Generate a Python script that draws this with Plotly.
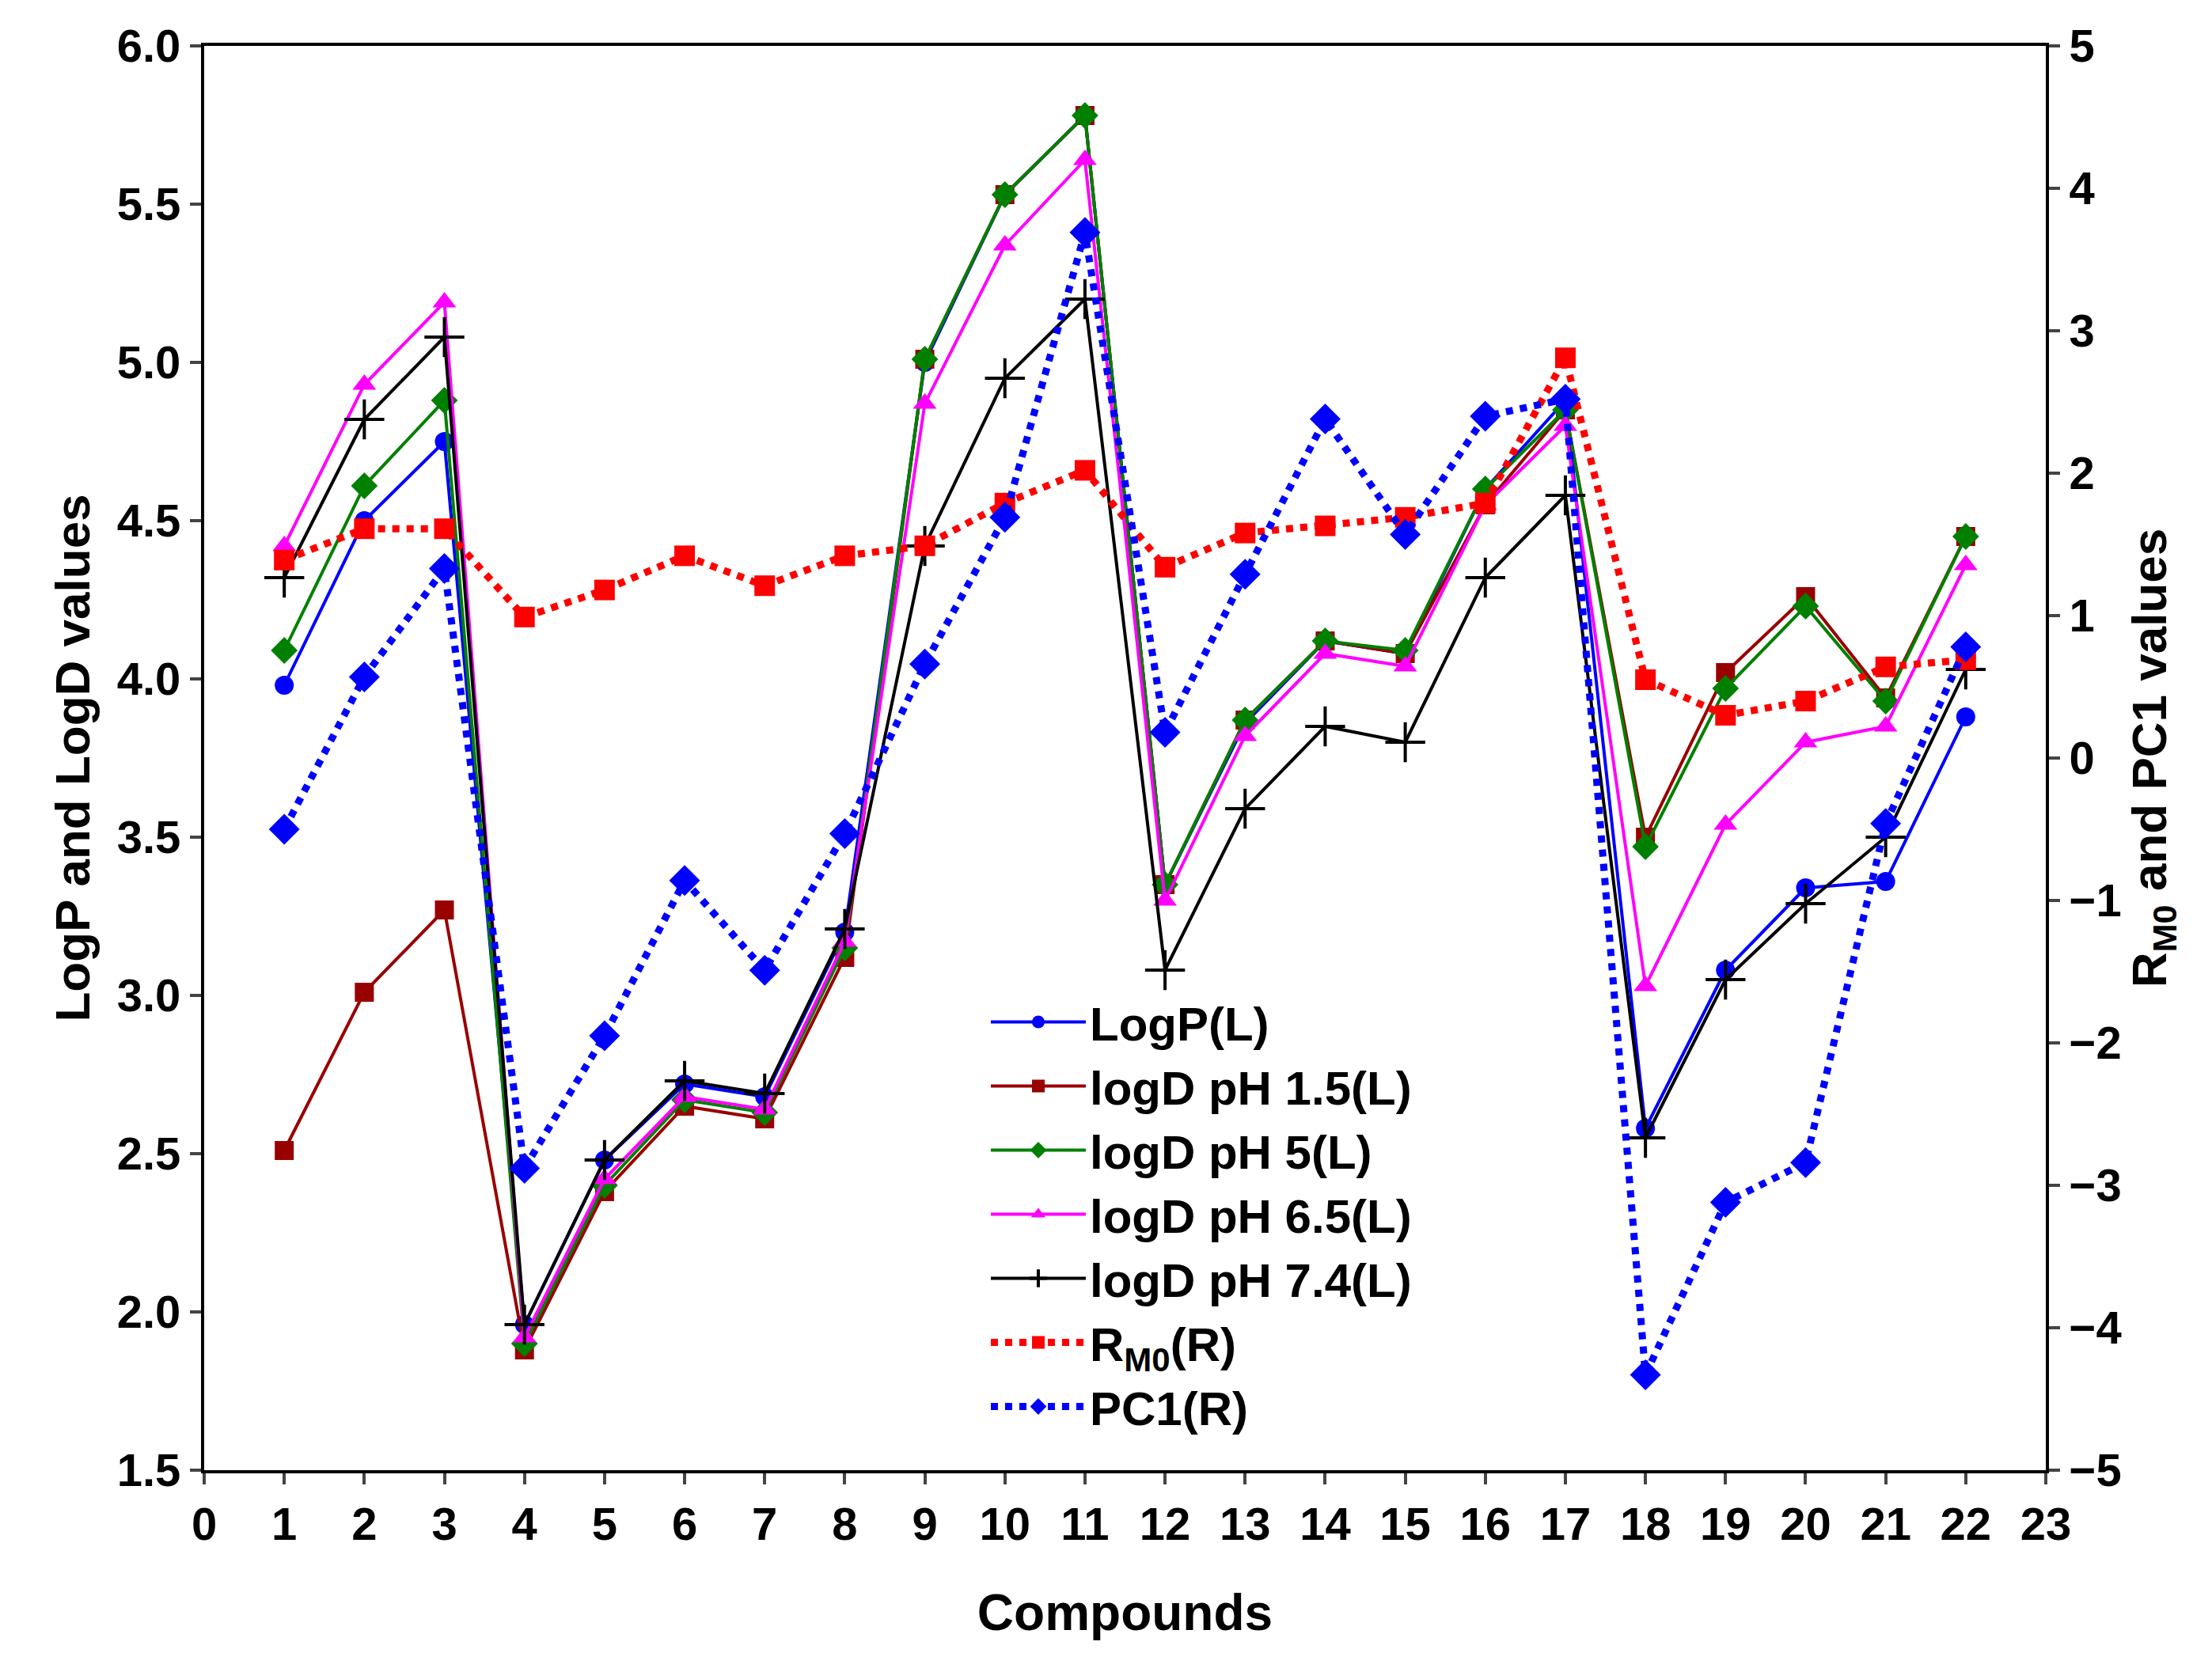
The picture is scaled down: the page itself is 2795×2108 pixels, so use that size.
import plotly.graph_objects as go

x = list(range(1, 23))
logp = [3.98,4.50,4.75,1.96,2.48,2.72,2.68,3.20,5.00,5.53,5.78,3.35,3.86,4.12,4.08,4.60,4.88,2.58,3.08,3.34,3.36,3.88]
logd15 = [2.51,3.01,3.27,1.88,2.38,2.65,2.61,3.12,5.01,5.53,5.78,3.35,3.87,4.12,4.08,4.55,4.85,3.50,4.02,4.26,3.94,4.45]
logd5 = [4.09,4.61,4.88,1.90,2.40,2.67,2.63,3.15,5.01,5.53,5.78,3.35,3.87,4.12,4.09,4.60,4.85,3.47,3.97,4.23,3.93,4.45]
logd65 = [4.42,4.93,5.19,1.92,2.42,2.68,2.64,3.17,4.87,5.37,5.64,3.30,3.82,4.08,4.04,4.55,4.80,3.03,3.54,3.80,3.85,4.36]
logd74 = [4.32,4.82,5.08,1.96,2.48,2.73,2.69,3.21,4.42,4.95,5.20,3.08,3.59,3.85,3.80,4.32,4.58,2.55,3.05,3.29,3.50,4.03]
rm0 = [1.39,1.61,1.61,0.99,1.18,1.42,1.21,1.42,1.49,1.79,2.02,1.34,1.58,1.63,1.69,1.79,2.81,0.55,0.30,0.40,0.64,0.69]
pc1 = [-0.50,0.57,1.33,-2.88,-1.95,-0.86,-1.49,-0.53,0.66,1.69,3.69,0.18,1.29,2.38,1.57,2.40,2.52,-4.33,-3.12,-2.84,-0.46,0.78]

fig = go.Figure()
def add(y, name, color, sym, dash="solid", axis="y", msize=24, lw=4):
    mk = dict(symbol=sym, size=msize, color=color)
    if sym == "cross-thin":
        mk.update(line=dict(color=color, width=4), size=36)
    fig.add_trace(go.Scatter(x=x, y=y, name="<b>" + name + "</b>", mode="lines+markers", yaxis=axis,
                             line=dict(color=color, width=lw, dash=dash), marker=mk))

add(logp, "LogP(L)", "#0000ff", "circle")
add(logd15, "logD pH 1.5(L)", "#990000", "square")
add(logd5, "logD pH 5(L)", "#008000", "diamond", msize=26)
add(logd65, "logD pH 6.5(L)", "#ff00ff", "triangle-up", msize=26)
add(logd74, "logD pH 7.4(L)", "#000000", "cross-thin")
add(rm0, "R<sub>M0</sub>(R)", "#ff0000", "square", dash="dot", axis="y2", lw=9, msize=26)
add(pc1, "PC1(R)", "#0000ff", "diamond", dash="dot", axis="y2", lw=9, msize=30)

fnt = dict(family="Liberation Sans", size=58, color="black")
ax = dict(showgrid=False, showline=True, linecolor="black", linewidth=4, ticks="outside",
          ticklen=14, tickwidth=4, tickfont=fnt, zeroline=False, tickprefix="<b>", ticksuffix="</b>")
fig.update_layout(
    width=2795, height=2108, plot_bgcolor="white", paper_bgcolor="white",
    margin=dict(l=250, r=218, t=50, b=258),
    font=dict(family="Liberation Sans", size=58, color="black"),
    xaxis=dict(range=[0, 23], dtick=1, mirror=True,
               title=dict(text="<b>Compounds</b>", font=dict(size=64), standoff=60), **ax),
    yaxis=dict(range=[1.5, 6.0], dtick=0.5, tickformat=".1f",
               title=dict(text="<b>LogP and LogD values</b>", font=dict(size=62)), **ax),
    yaxis2=dict(range=[-5, 5], dtick=1, overlaying="y", side="right",
                title=dict(text="<b>R<sub>M0</sub> and PC1 values</b>", font=dict(size=62)), **ax),
    legend=dict(x=0.425, y=0.34, xanchor="left", yanchor="top", bgcolor="rgba(0,0,0,0)",
                font=dict(size=60), itemwidth=120, tracegroupgap=0),
)
fig.write_html("out.html")
